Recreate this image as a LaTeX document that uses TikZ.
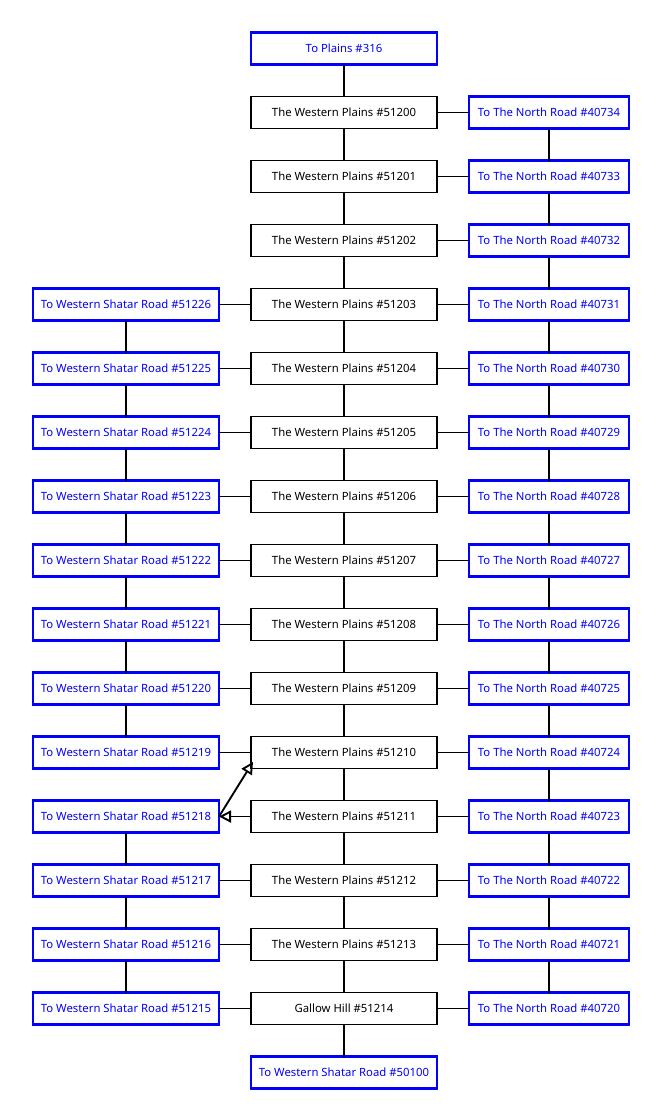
\documentclass[tikz,border=0pt]{standalone}
\usepackage{fontspec}
\setmainfont{Noto Sans}
\usetikzlibrary{arrows.meta}
\usetikzlibrary{positioning}

\tikzset{
	room/.style={draw=black,line width=1.3pt,rectangle,minimum width=139.5pt,minimum height=24pt,inner sep=0pt,outer sep=0pt,font=\fontsize{8.5}{10}\selectfont},
	exit/.style={room,draw=blue,text=blue,line width=1.6pt},
	narrowexit/.style={exit,minimum width=120pt},
	link/.style={line width=1.4pt},
	oneway/.style={link,-{Triangle[open,length=9pt,width=9pt]}},
}

\begin{document}
\begin{tikzpicture}[node distance=24pt and 24pt]
		\useasboundingbox (0,0) rectangle (496.5pt,-840pt);

		% center column
		\node [exit] (c0) at (258pt,-36.4pt) {To Plains \#316};
		\foreach \k [evaluate=\k as \p using int(\k-1)] in {1,...,14}
			\node [room,below=of c\p] (c\k) {The Western Plains \#\the\numexpr51199+\k\relax};
		\node [room,below=of c14] (c15) {Gallow Hill \#51214};
		\node [exit,below=of c15] (c16) {To Western Shatar Road \#50100};

		% side exits
		\foreach \k in {1,...,15}
			\node [narrowexit,right=of c\k] (r\k) {To The North Road \#\the\numexpr40735-\k\relax};
		\foreach \k in {4,...,15}
			\node [exit,left=of c\k] (l\k) {To Western Shatar Road \#\the\numexpr51230-\k\relax};

		\foreach \k [evaluate=\k as \p using int(\k-1)] in {1,...,16}
			\draw [link] (c\p) -- (c\k);
		\foreach \k in {1,...,15}
			\draw [link] (c\k) -- (r\k);
		\foreach \k [evaluate=\k as \p using int(\k-1)] in {2,...,15}
			\draw [link] (r\p) -- (r\k);
		\foreach \k in {4,...,11,13,14,15}
			\draw [link] (c\k) -- (l\k);
		\foreach \k [evaluate=\k as \p using int(\k-1)] in {5,...,11,13,14,15}
			\draw [link] (l\p) -- (l\k);

		\draw [oneway] (c12) -- (l12);
		\draw [oneway] (l12.east) -- ([shift={(1.5pt,5pt)}]c11.south west);
	\end{tikzpicture}
\end{document}
